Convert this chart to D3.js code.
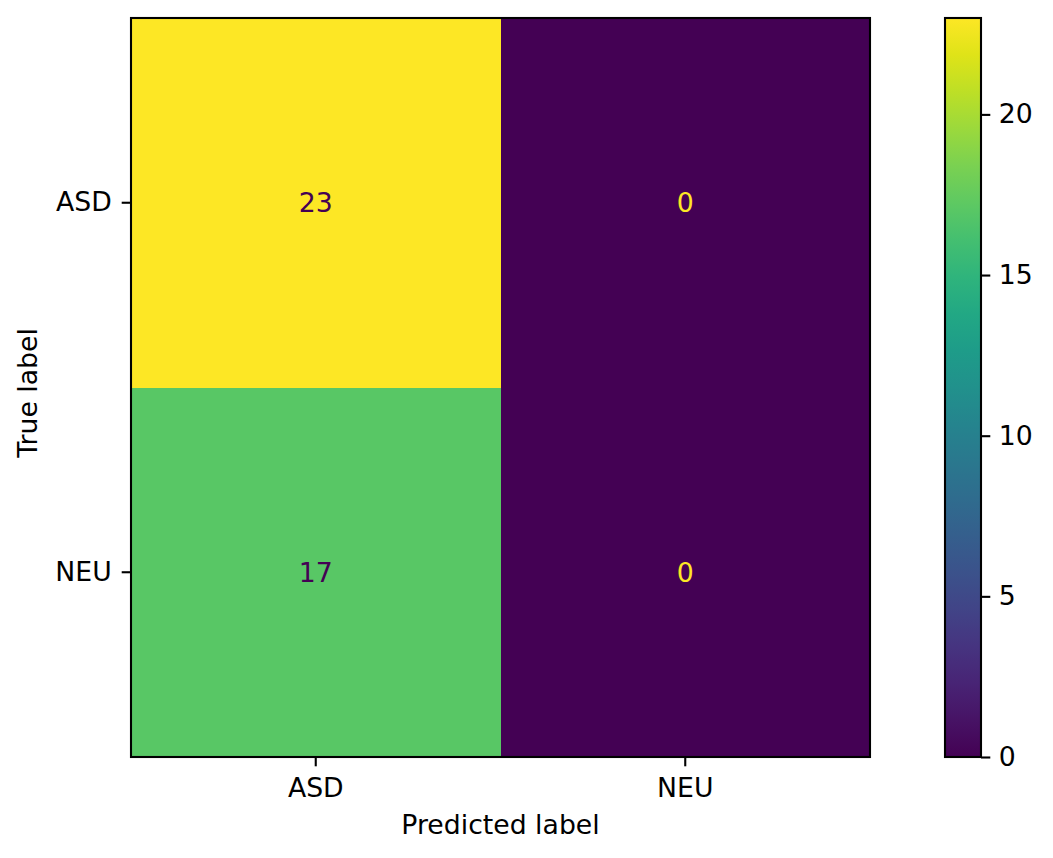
<!DOCTYPE html>
<html><head><meta charset="utf-8">
<script src="https://cdn.jsdelivr.net/npm/d3@7"></script>
<style>body{margin:0;background:#fff}svg{display:block}text{font-family:"DejaVu Sans",sans-serif;}</style>
</head><body>
<svg id="c" width="1053" height="858"></svg>
<script>
const trueLabels = ["ASD", "NEU"];
const predLabels = ["ASD", "NEU"];
const values = [[23, 0], [17, 0]];
const cbarTicks = [0, 5, 10, 15, 20];

const svg = d3.select("#c");
const fs = 26.7;
const tickLen = 9.3;
const L = 131, R = 870, T = 18, B = 757;
const vmin = 0, vmax = 23;
const color = v => d3.interpolateViridis((v - vmin) / (vmax - vmin));

const x = d3.scaleBand().domain(predLabels).range([L, R]);
const y = d3.scaleBand().domain(trueLabels).range([T, B]);

const cells = [];
trueLabels.forEach((t, i) => predLabels.forEach((p, j) => cells.push({t, p, v: values[i][j]})));

svg.selectAll("rect.cell").data(cells).join("rect")
  .attr("x", d => x(d.p)).attr("y", d => y(d.t))
  .attr("width", x.bandwidth()).attr("height", y.bandwidth())
  .attr("shape-rendering", "crispEdges")
  .attr("fill", d => color(d.v));

const thresh = (vmax + vmin) / 2;
svg.selectAll("text.val").data(cells).join("text")
  .attr("x", d => x(d.p) + x.bandwidth() / 2)
  .attr("y", d => y(d.t) + y.bandwidth() / 2)
  .attr("text-anchor", "middle").attr("dominant-baseline", "central")
  .attr("font-size", fs)
  .attr("fill", d => d.v < thresh ? d3.interpolateViridis(1) : d3.interpolateViridis(0))
  .text(d => d.v);

svg.append("rect").attr("x", L).attr("y", T).attr("width", R - L).attr("height", B - T)
  .attr("fill", "none").attr("stroke", "#000").attr("stroke-width", 2.1);

const xa = svg.append("g").attr("transform", `translate(0,${B})`)
  .call(d3.axisBottom(x).tickSize(tickLen).tickPadding(11.4));
const ya = svg.append("g").attr("transform", `translate(${L},0)`)
  .call(d3.axisLeft(y).tickSize(tickLen).tickPadding(10));
[xa, ya].forEach(a => {
  a.select(".domain").remove();
  a.selectAll("line").attr("stroke", "#000").attr("stroke-width", 2.1);
  a.selectAll("text").attr("font-size", fs).attr("fill", "#000").attr("font-family", "DejaVu Sans");
});

svg.append("text").attr("x", (L + R) / 2).attr("y", 834.3).attr("text-anchor", "middle")
  .attr("font-size", fs).text("Predicted label");
svg.append("text").attr("transform", `translate(37.3,393) rotate(-90)`)
  .attr("text-anchor", "middle").attr("font-size", fs).text("True label");

// colorbar
const cL = 945, cR = 981;
const cy = d3.scaleLinear().domain([vmin, vmax]).range([B, T]);
const defs = svg.append("defs");
const grad = defs.append("linearGradient").attr("id", "g").attr("x1", 0).attr("y1", 1).attr("x2", 0).attr("y2", 0);
d3.range(0, 1.0001, 0.05).forEach(s => grad.append("stop").attr("offset", s).attr("stop-color", d3.interpolateViridis(s)));
svg.append("rect").attr("x", cL).attr("y", T).attr("width", cR - cL).attr("height", B - T).attr("fill", "url(#g)");
svg.append("rect").attr("x", cL).attr("y", T).attr("width", cR - cL).attr("height", B - T)
  .attr("fill", "none").attr("stroke", "#000").attr("stroke-width", 2.1);
const ca = svg.append("g").attr("transform", `translate(${cR},0)`)
  .call(d3.axisRight(cy).tickValues(cbarTicks).tickSize(tickLen).tickPadding(8.4));
ca.select(".domain").remove();
ca.selectAll("line").attr("stroke", "#000").attr("stroke-width", 2.1);
ca.selectAll("text").attr("font-size", fs).attr("fill", "#000").attr("font-family", "DejaVu Sans");
</script>
</body></html>
